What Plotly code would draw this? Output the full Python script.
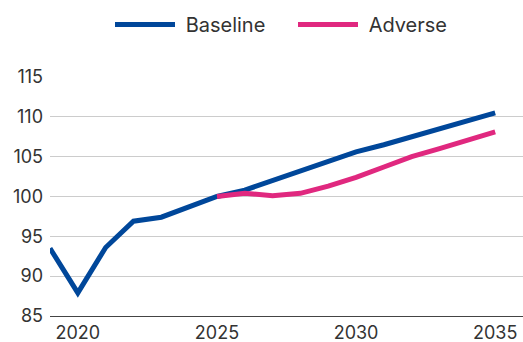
import plotly.graph_objects as go

years = list(range(2019, 2036))
baseline = [93.5, 87.9, 93.6, 96.9, 97.4, 98.7, 100.0, 100.8, 102.0, 103.2, 104.4, 105.6, 106.5, 107.5, 108.5, 109.5, 110.5]
adverse_years = list(range(2025, 2036))
adverse = [100.0, 100.4, 100.1, 100.4, 101.3, 102.4, 103.7, 105.0, 106.0, 107.0, 108.1]

x_ticks = [2020, 2025, 2030, 2035]
y_ticks = [85, 90, 95, 100, 105, 110, 115]

BLUE = "#00479A"
PINK = "#E0287F"
TEXT = "#333333"
FONT = "Inter"

fig = go.Figure()
fig.add_trace(go.Scatter(x=years, y=baseline, mode="lines", name=" Baseline",
                         line=dict(color=BLUE, width=5)))
fig.add_trace(go.Scatter(x=adverse_years, y=adverse, mode="lines", name=" Adverse",
                         line=dict(color=PINK, width=5)))

fig.update_layout(
    width=523, height=342,
    margin=dict(l=50, r=0, t=77, b=26),
    paper_bgcolor="white", plot_bgcolor="white",
    font=dict(family=FONT, color=TEXT, size=18),
    showlegend=True,
    legend=dict(orientation="h", x=110 / 523, xanchor="left", xref="container",
                y=0.928, yanchor="middle",
                yref="container", font=dict(size=20, color=TEXT, family=FONT),
                itemwidth=60, entrywidth=108, entrywidthmode="pixels",
                traceorder="normal"),
    xaxis=dict(range=[2019, 2036], tickvals=x_ticks, ticktext=[str(v) for v in x_ticks],
               showgrid=False, showline=True, linecolor="#444444", linewidth=1,
               ticks="", zeroline=False, tickfont=dict(size=18, color=TEXT)),
    yaxis=dict(range=[85, 115], tickvals=y_ticks, showgrid=True, gridcolor="#CCCCCC",
               gridwidth=1, showline=False, zeroline=False, ticks="",
               ticklabelstandoff=6, tickfont=dict(size=18, color=TEXT)),
)
fig.write_html("out.html")
